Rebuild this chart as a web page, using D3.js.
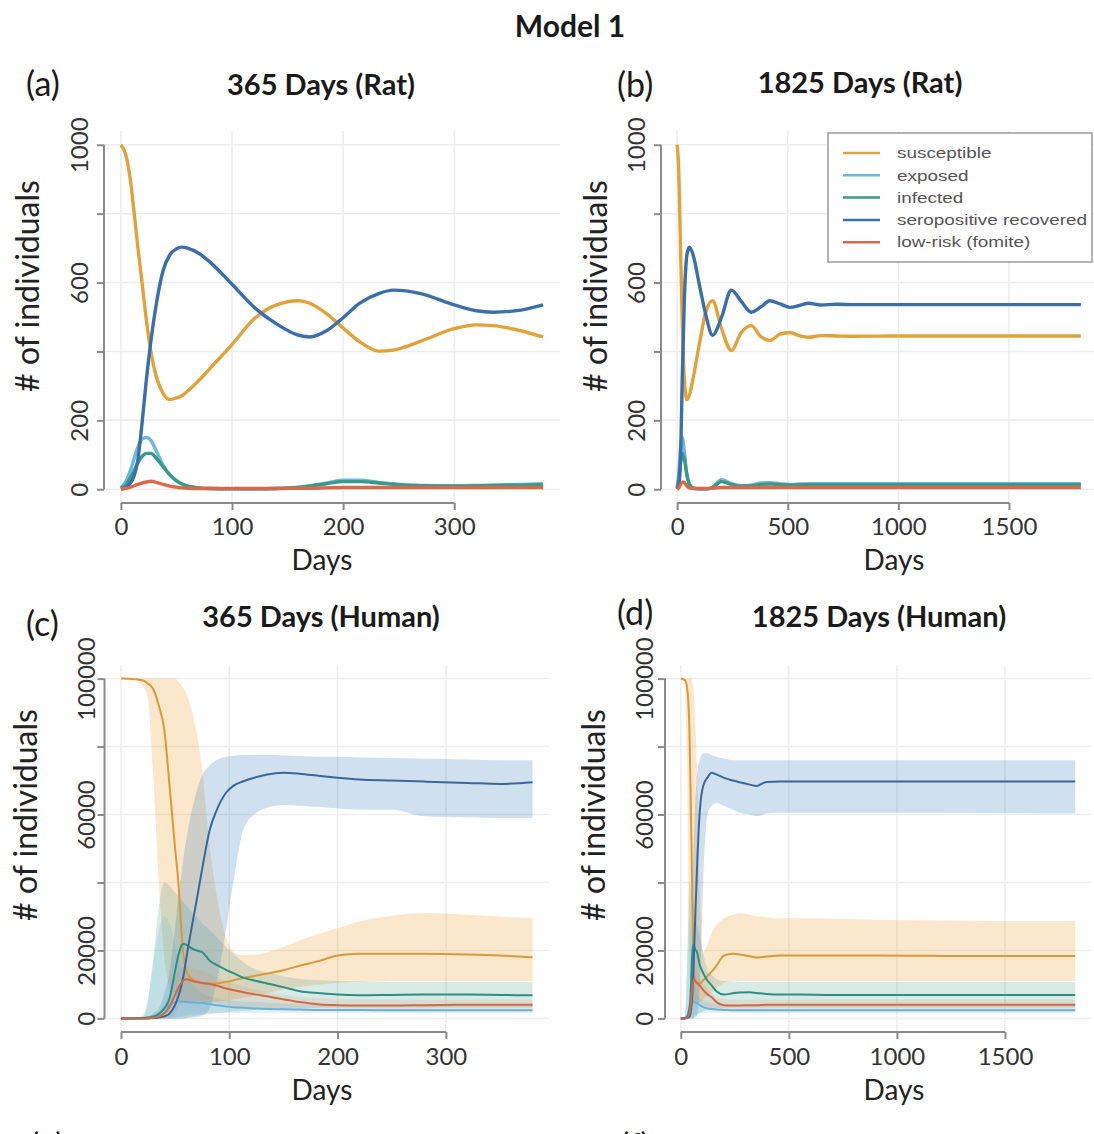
<!DOCTYPE html>
<html>
<head>
    <meta charset="utf-8" />
    <script src="https://d3js.org/d3.v7.min.js"></script>
    <title>Model 1</title>
    <style>
        body { margin: 0; background: #fff; }
        text { font-family: Lato, "Open Sans", sans-serif; }
    </style>
</head>
<body>
    <svg id="fig"></svg>
    <script type="text/javascript">
        // ---- (a) rat, 365 days ----
        const ratDaysA = [0, 4, 8, 12, 15, 19, 23, 27, 32, 38, 44, 50, 55, 60, 70, 80, 100, 120, 140, 160, 170, 185, 200, 215, 232, 245, 270, 300, 320, 335, 360, 380];
        const ratSusA = [1000, 975, 910, 800, 710, 600, 490, 400, 325, 278, 260, 265, 272, 285, 315, 350, 420, 495, 535, 547, 540, 510, 468, 428, 401, 404, 430, 466, 477, 475, 460, 442];
        const ratExpA = [5, 20, 50, 90, 120, 145, 150, 142, 110, 70, 42, 24, 15, 9, 4, 2, 1, 1, 2, 6, 10, 18, 26, 26, 20, 16, 11, 10, 11, 12, 14, 16];
        const ratInfA = [3, 10, 30, 55, 75, 95, 104, 104, 90, 65, 42, 25, 15, 9, 4, 2, 1, 1, 2, 5, 9, 16, 22, 22, 18, 14, 10, 9, 10, 11, 12, 13];
        const ratRecA = [0, 5, 15, 40, 80, 190, 320, 430, 540, 635, 680, 698, 703, 700, 685, 660, 595, 528, 480, 447, 442, 460, 498, 540, 568, 578, 568, 535, 518, 514, 520, 535];
        const ratLowA = [0, 2, 5, 10, 14, 18, 21, 23, 20, 14, 9, 6, 4, 3, 2, 2, 2, 2, 2, 3, 3, 4, 5, 5, 5, 5, 5, 5, 5, 5, 5, 5];

        // ---- (b) rat, 1825 days ----
        const ratDaysB = [0, 8, 15, 23, 32, 44, 55, 70, 100, 130, 160, 200, 245, 290, 335, 380, 419, 465, 510, 555, 594, 650, 720, 800, 1000, 1300, 1600, 1825];
        const ratSusB = [1000, 910, 710, 490, 325, 260, 272, 315, 420, 515, 547, 468, 403, 455, 475, 442, 432, 450, 455, 445, 441, 446, 445, 444, 445, 445, 445, 445];
        const ratExpB = [5, 50, 120, 150, 110, 42, 15, 4, 1, 1, 6, 28, 16, 10, 12, 18, 19, 16, 14, 15, 16, 16, 16, 16, 16, 16, 16, 16];
        const ratInfB = [3, 30, 75, 104, 90, 42, 15, 4, 1, 1, 5, 22, 14, 9, 10, 14, 15, 13, 12, 13, 13, 13, 13, 13, 13, 13, 13, 13];
        const ratRecB = [0, 15, 80, 320, 540, 680, 703, 685, 595, 505, 447, 498, 578, 545, 514, 530, 547, 538, 528, 534, 540, 535, 537, 536, 536, 536, 536, 536];
        const ratLowB = [0, 5, 14, 21, 20, 9, 4, 2, 2, 2, 3, 5, 5, 5, 5, 5, 5, 5, 5, 5, 5, 5, 5, 5, 5, 5, 5, 5];

        // ---- (c) human, 365 days: median, upper, lower ----
        const humDaysC = [0, 10, 20, 25, 30, 35, 40, 45, 50, 53, 56, 58, 61, 66, 70, 75, 82, 88, 97, 104, 113, 125, 135, 150, 165, 184, 200, 220, 250, 280, 320, 350, 380];
        const humSusC = [100000, 99900, 99500, 98500, 96800, 92000, 85000, 68000, 50000, 40000, 25000, 18000, 13300, 11500, 10900, 10500, 10300, 10300, 10700, 11200, 11900, 12600, 13200, 14200, 15500, 17000, 18500, 19000, 19000, 19000, 18800, 18500, 18000];
        const humSusHiC = [100000, 100000, 100000, 100000, 100000, 100000, 100000, 100000, 100000, 99000, 98000, 97000, 95000, 90000, 84000, 73000, 50500, 37000, 24000, 19500, 18600, 18800, 19500, 21000, 23000, 25000, 26500, 28500, 30200, 31000, 30500, 30000, 29500];
        const humSusLoC = [100000, 99900, 98000, 94000, 70000, 40000, 18000, 9000, 6500, 5500, 5000, 4800, 4600, 4500, 4500, 4500, 4600, 4800, 5200, 5600, 6000, 6800, 7500, 8500, 9300, 10000, 10500, 10800, 11000, 11000, 11000, 11000, 11000];
        const humExpC = [0, 0, 100, 300, 700, 1500, 2800, 4000, 4800, 5000, 5000, 4900, 4800, 4700, 4600, 4500, 4200, 3900, 3500, 3300, 3100, 2900, 2800, 2700, 2600, 2500, 2500, 2450, 2400, 2400, 2400, 2400, 2400];
        const humExpHiC = [0, 0, 1000, 6000, 17000, 26000, 30000, 28000, 22000, 18000, 15000, 13500, 12000, 10000, 8500, 7500, 6500, 6000, 5500, 5200, 5000, 4800, 4600, 4400, 4200, 4000, 4000, 3900, 3900, 3800, 3800, 3800, 3800];
        const humExpLoC = [0, 0, 0, 0, 0, 0, 0, 0, 300, 500, 800, 900, 1000, 1200, 1300, 1400, 1500, 1500, 1600, 1600, 1600, 1600, 1600, 1600, 1600, 1600, 1600, 1600, 1600, 1600, 1600, 1600, 1600];
        const humInfC = [0, 0, 100, 250, 500, 1300, 3000, 6000, 14000, 18500, 21500, 22000, 21500, 20500, 20000, 19500, 17000, 15800, 14300, 13300, 12000, 11000, 10300, 9200, 8000, 7400, 7000, 6800, 6900, 7000, 7000, 6900, 6800];
        const humInfHiC = [0, 0, 500, 5000, 18000, 33000, 40000, 39000, 37000, 36000, 35000, 34000, 33000, 31000, 30000, 28000, 26000, 24000, 21000, 19000, 16500, 14300, 13500, 12300, 11600, 11200, 11000, 10900, 10800, 10800, 10800, 10800, 10800];
        const humInfLoC = [0, 0, 0, 0, 0, 0, 0, 0, 0, 0, 0, 100, 300, 600, 800, 1000, 1300, 1500, 1800, 2000, 2200, 2500, 2700, 2900, 3000, 3100, 3200, 3200, 3200, 3200, 3200, 3200, 3200];
        const humRecC = [0, 0, 0, 0, 100, 300, 600, 1500, 4000, 6500, 10000, 13000, 19000, 28000, 35000, 44000, 55500, 61000, 66400, 68500, 69800, 71000, 71800, 72300, 72000, 71300, 70800, 70300, 70000, 69700, 69300, 69000, 69500];
        const humRecHiC = [0, 0, 100, 500, 1500, 3000, 7000, 14000, 27000, 36000, 43000, 48000, 54000, 62000, 67000, 71500, 74500, 76000, 77000, 77300, 77500, 77500, 77500, 77400, 77200, 77000, 77000, 76800, 76600, 76400, 76200, 76000, 76000];
        const humRecLoC = [0, 0, 0, 0, 0, 0, 0, 0, 0, 0, 0, 0, 100, 200, 400, 800, 3000, 10000, 26000, 40700, 55500, 60500, 62000, 62800, 62600, 62200, 61800, 61500, 61400, 59500, 59200, 59000, 59000];
        const humLowC = [0, 0, 0, 50, 200, 500, 1500, 3500, 7000, 9000, 10500, 11300, 11500, 11000, 10700, 10400, 10100, 9700, 8800, 8300, 7700, 7000, 6500, 5600, 4800, 4100, 3900, 3800, 3800, 3900, 4000, 4000, 4000];
        const humLowHiC = [0, 0, 0, 100, 400, 1000, 3500, 8000, 12000, 14000, 15000, 15500, 15500, 15000, 14500, 14000, 13000, 12000, 11000, 10200, 9300, 8500, 7800, 7000, 6300, 5900, 5700, 5600, 5500, 5500, 5500, 5500, 5500];
        const humLowLoC = [0, 0, 0, 0, 0, 0, 0, 0, 1500, 3000, 4500, 5000, 5500, 5500, 5400, 5200, 5000, 4600, 4000, 3700, 3300, 3000, 2800, 2600, 2500, 2400, 2400, 2400, 2400, 2400, 2400, 2400, 2400];

        // ---- (d) human, 1825 days ----
        const humDaysD = [0, 20, 30, 40, 45, 50, 56, 61, 66, 75, 88, 104, 125, 142, 165, 200, 241, 272, 319, 350, 396, 457, 550, 700, 900, 1200, 1500, 1825];
        const humSusD = [100000, 99500, 96800, 85000, 68000, 50000, 25000, 13300, 11500, 10500, 10300, 11200, 12600, 13700, 15500, 18500, 19000, 18800, 18300, 17900, 18200, 18500, 18500, 18500, 18500, 18400, 18400, 18400];
        const humSusHiD = [100000, 100000, 100000, 100000, 100000, 100000, 98000, 95000, 89000, 73000, 37000, 19500, 22000, 25000, 27500, 29500, 30500, 31000, 30500, 30000, 29800, 29500, 29500, 29300, 29000, 28800, 28700, 28700];
        const humSusLoD = [100000, 98000, 70000, 18000, 9000, 6500, 5000, 4600, 4500, 4500, 4800, 5600, 6800, 7800, 9000, 10500, 11000, 11000, 11000, 11000, 11000, 11000, 11000, 11000, 11000, 11000, 11000, 11000];
        const humExpD = [0, 100, 700, 2800, 4000, 4800, 5000, 4800, 4700, 4500, 3900, 3300, 2900, 2750, 2600, 2500, 2400, 2400, 2400, 2400, 2400, 2400, 2400, 2400, 2400, 2400, 2400, 2400];
        const humExpHiD = [0, 1000, 17000, 30000, 28000, 22000, 15000, 12000, 10000, 7500, 6000, 5200, 4800, 4500, 4200, 4000, 3900, 3800, 3800, 3800, 3800, 3800, 3800, 3800, 3800, 3800, 3800, 3800];
        const humExpLoD = [0, 0, 0, 0, 0, 300, 800, 1000, 1200, 1400, 1500, 1600, 1600, 1600, 1600, 1600, 1600, 1600, 1600, 1600, 1600, 1600, 1600, 1600, 1600, 1600, 1600, 1600];
        const humInfD = [0, 100, 500, 3000, 6000, 14000, 21500, 21500, 20500, 19500, 15800, 13300, 11000, 9800, 8000, 7000, 7400, 7600, 7700, 7500, 7200, 7000, 7000, 6900, 6900, 6900, 6900, 6900];
        const humInfHiD = [0, 500, 18000, 40000, 39000, 37000, 35000, 33000, 31000, 28000, 24000, 19000, 14300, 13000, 11600, 11000, 10900, 10800, 10800, 10800, 10800, 10800, 10800, 10800, 10800, 10800, 10800, 10800];
        const humInfLoD = [0, 0, 0, 0, 0, 0, 0, 300, 600, 1000, 1500, 2000, 2500, 2800, 3000, 3200, 3200, 3200, 3200, 3200, 3200, 3200, 3200, 3200, 3200, 3200, 3200, 3200];
        const humRecD = [0, 0, 100, 600, 1500, 4000, 10000, 19000, 28000, 44000, 61000, 68500, 71000, 72300, 71800, 70800, 70000, 69500, 68800, 68400, 69600, 69700, 69700, 69700, 69700, 69700, 69700, 69700];
        const humRecHiD = [0, 100, 1500, 7000, 14000, 27000, 43000, 54000, 62000, 71500, 76000, 78000, 78000, 77500, 77000, 76500, 76000, 76000, 76000, 76000, 76000, 76000, 76000, 76000, 76000, 76000, 76000, 76000];
        const humRecLoD = [0, 0, 0, 0, 0, 0, 0, 100, 200, 800, 10000, 40700, 60500, 62500, 63400, 62500, 61500, 60500, 60000, 59500, 60300, 60500, 60500, 60500, 60500, 60500, 60400, 60300];
        const humLowD = [0, 0, 200, 1500, 3500, 7000, 10500, 11500, 11000, 10400, 9700, 8300, 7000, 6300, 4800, 3900, 3800, 3800, 3900, 3900, 4000, 4000, 4000, 4000, 4000, 4000, 4000, 4000];
        const humLowHiD = [0, 0, 400, 3500, 8000, 12000, 15000, 15500, 15000, 14000, 12000, 10200, 8500, 7600, 6300, 5700, 5500, 5500, 5500, 5500, 5500, 5500, 5500, 5500, 5500, 5500, 5500, 5500];
        const humLowLoD = [0, 0, 0, 0, 0, 1500, 4500, 5500, 5500, 5200, 4600, 3700, 3000, 2800, 2500, 2400, 2400, 2400, 2400, 2400, 2400, 2400, 2400, 2400, 2400, 2400, 2400, 2400];

        const legendNames = ['susceptible', 'exposed', 'infected', 'seropositive recovered', 'low-risk (fomite)'];
        const ratYTicks = [0, 200, 400, 600, 800, 1000];
        const ratYLabels = [0, 200, 600, 1000];
        const humYTicks = [0, 20000, 40000, 60000, 80000, 100000];
        const humYLabels = [0, 20000, 60000, 100000];
        const shortXTicks = [0, 100, 200, 300];
        const longXTicks = [0, 500, 1000, 1500];

        // colours: susceptible, exposed, infected, recovered, low-risk
        const lineCol = ['#E2A23A', '#6DB7E2', '#3A9A88', '#3A6FAA', '#D9694A'];
        const humLineCol = ['#D79B3C', '#6AB0DA', '#2F8F80', '#35689F', '#CF6A45'];

        const svg = d3.select('#fig').attr('width', 1094).attr('height', 1134);
        const plain = d3.format('d');

        // header
        svg.append('text').attr('x', 570).attr('y', 37).attr('text-anchor', 'middle')
            .style('font-size', '30px').style('font-weight', 700).attr('fill', '#1a1a1a').text('Model 1');

        function drawPanel(p) {
            const x = d3.scaleLinear().domain([-0.04 * p.xMax, 1.04 * p.xMax]).range([p.left, p.right]);
            const y = d3.scaleLinear().domain([-0.04 * p.yMax, 1.04 * p.yMax]).range([p.bottom, p.top]);
            const g = svg.append('g');

            // light grid
            g.selectAll('.vg').data(p.xTicks).enter().append('line')
                .attr('x1', d => x(d)).attr('x2', d => x(d))
                .attr('y1', p.top).attr('y2', p.bottom)
                .attr('stroke', '#ededed').attr('stroke-width', 1.5);
            g.selectAll('.hg').data(p.yTicks).enter().append('line')
                .attr('x1', p.left).attr('x2', p.right)
                .attr('y1', d => y(d)).attr('y2', d => y(d))
                .attr('stroke', '#ededed').attr('stroke-width', 1.5);

            // uncertainty bands first
            if (p.bands) {
                p.bands.forEach(function (b) {
                    const rows = p.days.map((d, k) => ({ d: d, lo: b.lo[k], hi: b.hi[k] }));
                    g.append('path').datum(rows)
                        .attr('d', d3.area().curve(d3.curveMonotoneX)
                            .x(r => x(r.d)).y0(r => y(r.lo)).y1(r => y(r.hi)))
                        .attr('fill', b.col).attr('fill-opacity', b.op);
                });
            }

            // median / deterministic lines
            p.series.forEach(function (s, i) {
                const rows = p.days.map((d, k) => ({ d: d, v: s[k] }));
                g.append('path').datum(rows)
                    .attr('d', d3.line().curve(d3.curveMonotoneX).x(r => x(r.d)).y(r => y(r.v)))
                    .attr('fill', 'none').attr('stroke', p.cols[i])
                    .attr('stroke-width', p.lw).attr('stroke-linejoin', 'round');
            });

            // x axis (R style: line only from first to last tick)
            const xa = g.append('g').attr('transform', 'translate(0,' + p.bottom + ')')
                .call(d3.axisBottom(x).tickValues(p.xTicks).tickFormat(plain).tickSize(7).tickSizeOuter(0));
            xa.select('.domain').remove();
            xa.append('line').attr('x1', x(p.xTicks[0])).attr('x2', x(p.xTicks[p.xTicks.length - 1]))
                .attr('stroke', '#8a8a8a').attr('stroke-width', 2);
            xa.selectAll('.tick line').attr('stroke', '#8a8a8a').attr('stroke-width', 2);
            xa.selectAll('.tick text').attr('y', p.xLabOff).attr('dy', 0)
                .attr('fill', '#333').style('font-size', '24px').style('font-family', 'Lato, sans-serif');

            // y axis with rotated labels, some ticks left blank
            const ya = g.append('g').attr('transform', 'translate(' + p.left + ',0)')
                .call(d3.axisLeft(y).tickValues(p.yTicks).tickSize(7).tickSizeOuter(0)
                    .tickFormat(d => p.yLabels.indexOf(d) >= 0 ? plain(d) : ''));
            ya.select('.domain').remove();
            ya.append('line').attr('y1', y(p.yTicks[0])).attr('y2', y(p.yTicks[p.yTicks.length - 1]))
                .attr('stroke', '#8a8a8a').attr('stroke-width', 2);
            ya.selectAll('.tick line').attr('stroke', '#8a8a8a').attr('stroke-width', 2);
            ya.selectAll('.tick text').attr('transform', 'rotate(-90)')
                .attr('x', 0).attr('y', -p.yLabOff).attr('dy', 0).attr('text-anchor', 'middle')
                .attr('fill', '#333').style('font-size', '24px').style('font-family', 'Lato, sans-serif');

            // titles
            svg.append('text').attr('x', p.titleX).attr('y', p.titleY).attr('text-anchor', 'middle')
                .style('font-size', '29px').style('font-weight', 700).attr('fill', '#1a1a1a').text(p.title);
            svg.append('text').attr('x', p.tagX).attr('y', p.tagY)
                .style('font-size', '34px').attr('fill', '#1a1a1a').text(p.tag);
            svg.append('text').attr('x', p.xTitleX).attr('y', p.xTitleY).attr('text-anchor', 'middle')
                .style('font-size', '28px').attr('fill', '#222').text('Days');
            svg.append('text').attr('transform', 'translate(' + p.yTitleX + ',' + p.yTitleY + ') rotate(-90)')
                .attr('text-anchor', 'middle').style('font-size', '32px').attr('fill', '#222').text('# of individuals');
        }

        drawPanel({
            days: ratDaysA, series: [ratSusA, ratExpA, ratInfA, ratRecA, ratLowA], cols: lineCol, lw: 3.4,
            xMax: 380, yMax: 1000, left: 104, right: 560, top: 131, bottom: 503,
            xTicks: shortXTicks, yTicks: ratYTicks, yLabels: ratYLabels, xLabOff: 32, yLabOff: 16,
            title: '365 Days (Rat)', titleX: 321, titleY: 95, tag: '(a)', tagX: 26, tagY: 96,
            xTitleX: 322, xTitleY: 570, yTitleX: 39, yTitleY: 286
        });
        drawPanel({
            days: ratDaysB, series: [ratSusB, ratExpB, ratInfB, ratRecB, ratLowB], cols: lineCol, lw: 3.4,
            xMax: 1825, yMax: 1000, left: 661, right: 1097, top: 131, bottom: 503,
            xTicks: longXTicks, yTicks: ratYTicks, yLabels: ratYLabels, xLabOff: 32, yLabOff: 16,
            title: '1825 Days (Rat)', titleX: 860, titleY: 93, tag: '(b)', tagX: 617, tagY: 97,
            xTitleX: 894, xTitleY: 570, yTitleX: 607, yTitleY: 286
        });
        drawPanel({
            days: humDaysC, series: [humSusC, humExpC, humInfC, humRecC, humLowC], cols: humLineCol, lw: 2,
            bands: [
                { lo: humSusLoC, hi: humSusHiC, col: '#F2A845', op: 0.28 },
                { lo: humExpLoC, hi: humExpHiC, col: '#6DB7E2', op: 0.2 },
                { lo: humInfLoC, hi: humInfHiC, col: '#3A9A88', op: 0.2 },
                { lo: humRecLoC, hi: humRecHiC, col: '#4F86C0', op: 0.26 },
                { lo: humLowLoC, hi: humLowHiC, col: '#E0805A', op: 0.15 }
            ],
            xMax: 380, yMax: 100000, left: 104.5, right: 549, top: 665, bottom: 1032,
            xTicks: shortXTicks, yTicks: humYTicks, yLabels: humYLabels, xLabOff: 33, yLabOff: 10,
            title: '365 Days (Human)', titleX: 321, titleY: 627, tag: '(c)', tagX: 26, tagY: 636,
            xTitleX: 322, xTitleY: 1100, yTitleX: 37, yTitleY: 815
        });
        drawPanel({
            days: humDaysD, series: [humSusD, humExpD, humInfD, humRecD, humLowD], cols: humLineCol, lw: 2,
            bands: [
                { lo: humSusLoD, hi: humSusHiD, col: '#F2A845', op: 0.28 },
                { lo: humExpLoD, hi: humExpHiD, col: '#6DB7E2', op: 0.2 },
                { lo: humInfLoD, hi: humInfHiD, col: '#3A9A88', op: 0.2 },
                { lo: humRecLoD, hi: humRecHiD, col: '#4F86C0', op: 0.26 },
                { lo: humLowLoD, hi: humLowHiD, col: '#E0805A', op: 0.15 }
            ],
            xMax: 1825, yMax: 100000, left: 665, right: 1091, top: 665, bottom: 1032,
            xTicks: longXTicks, yTicks: humYTicks, yLabels: humYLabels, xLabOff: 33, yLabOff: 12,
            title: '1825 Days (Human)', titleX: 879, titleY: 627, tag: '(d)', tagX: 617, tagY: 625,
            xTitleX: 894, xTitleY: 1100, yTitleX: 605, yTitleY: 815
        });

        // legend in panel (b)
        const leg = svg.append('g');
        leg.append('rect').attr('x', 828).attr('y', 133).attr('width', 264).attr('height', 129)
            .attr('fill', '#fff').attr('stroke', '#9a9a9a').attr('stroke-width', 1.5);
        leg.selectAll('.li').data(legendNames).enter().append('line')
            .attr('x1', 843).attr('x2', 880)
            .attr('y1', (d, i) => 153 + i * 22.3).attr('y2', (d, i) => 153 + i * 22.3)
            .attr('stroke', (d, i) => lineCol[i]).attr('stroke-width', 2.5);
        leg.selectAll('.lt').data(legendNames).enter().append('text')
            .attr('transform', (d, i) => 'translate(897,' + (153 + i * 22.3) + ') scale(1.26,1)')
            .attr('dy', '0.35em').style('font-family', '"Liberation Sans", Arial, sans-serif')
            .style('font-size', '15px').attr('fill', '#555').text(d => d);

        // tops of the next row's panel tags, cut by the page edge
        svg.append('text').attr('x', 30).attr('y', 1158).style('font-size', '34px').attr('fill', '#1a1a1a').text('(e)');
        svg.append('text').attr('x', 620).attr('y', 1158).style('font-size', '34px').attr('fill', '#1a1a1a').text('(f)');
    </script>
</body>
</html>
